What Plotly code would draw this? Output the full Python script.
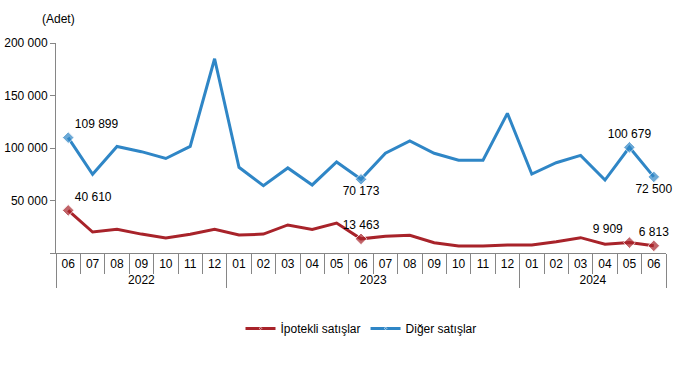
import plotly.graph_objects as go

years = ["2022"] * 7 + ["2023"] * 12 + ["2024"] * 6
months = ["06", "07", "08", "09", "10", "11", "12",
          "01", "02", "03", "04", "05", "06", "07", "08", "09", "10", "11", "12",
          "01", "02", "03", "04", "05", "06"]

ipotekli = [40610, 20000, 22500, 18000, 14300, 17800, 22500,
            17100, 18000, 26700, 22500, 28500, 13463, 15900, 16800, 9800, 6700, 6700, 7600,
            7600, 10800, 14600, 8300, 9909, 6813]
diger = [109899, 75000, 101500, 96500, 90000, 101500, 185000,
         81600, 64100, 81000, 64800, 86700, 70173, 95000, 106700, 95000, 88300, 88300, 133000,
         75200, 86000, 93000, 69500, 100679, 72500]

label_idx_ip = {0: "top right", 12: "top center", 23: "top left", 24: "top center"}
label_idx_dg = {0: "top right", 12: "bottom center", 23: "top center", 24: "bottom center"}


def fmt(v):
    return f"{v:,}".replace(",", " ")


def build(vals, lab):
    text = [fmt(v) if i in lab else "" for i, v in enumerate(vals)]
    pos = [lab.get(i, "top center") for i in range(len(vals))]
    size = [9 if i in lab else 0 for i in range(len(vals))]
    return text, pos, size


# make month labels unique per year so plotly keeps trace order
uniq_years = list(dict.fromkeys(years))
months_u = [m + "\u200b" * uniq_years.index(y) for y, m in zip(years, months)]

x = [years, months_u]
fig = go.Figure()
for name, vals, lab, color in [
    ("İpotekli satışlar", ipotekli, label_idx_ip, "#A8232A"),
    ("Diğer satışlar", diger, label_idx_dg, "#2F86C6"),
]:
    text, pos, size = build(vals, lab)
    fig.add_trace(go.Scatter(
        x=x, y=vals, name=name, mode="lines+markers+text",
        line=dict(color=color, width=3),
        marker=dict(symbol="diamond", size=size, color=color),
        text=text, textposition=pos,
        textfont=dict(family="Liberation Sans, Arial", size=12, color="#000000"),
        cliponaxis=False,
    ))

fig.update_layout(
    width=674, height=370,
    margin=dict(l=56, r=8, t=43, b=117, autoexpand=False),
    paper_bgcolor="white", plot_bgcolor="white",
    font=dict(family="Liberation Sans, Arial", size=12, color="#000000"),
    separators=", ",
    showlegend=True,
    legend=dict(orientation="h", x=0.5, xanchor="center", y=-0.29, yanchor="top",
                font=dict(size=12), itemwidth=30),
    annotations=[dict(text="(Adet)", xref="paper", yref="paper", x=-0.027, y=1.07,
                      xanchor="left", yanchor="bottom", showarrow=False,
                      font=dict(size=12))],
)
fig.update_yaxes(range=[0, 200000], tickvals=[0, 50000, 100000, 150000, 200000],
                 ticktext=["", "50 000", "100 000", "150 000", "200 000"],
                 showgrid=False, zeroline=False, showline=True, linecolor="#868686",
                 ticks="outside", ticklen=5, tickcolor="#868686", automargin=False)
fig.update_xaxes(type="multicategory", range=[-0.5, len(months) - 0.5],
                 showgrid=False, showline=True, linecolor="#868686",
                 ticks="outside", tickson="boundaries", ticklen=20, tickcolor="#868686",
                 tickangle=0, automargin=False,
                 showdividers=True, dividercolor="#868686", dividerwidth=1)
fig.write_html("out.html", config={"displayModeBar": False},
               post_script="document.body.style.margin='0';document.body.style.overflow='hidden';")
